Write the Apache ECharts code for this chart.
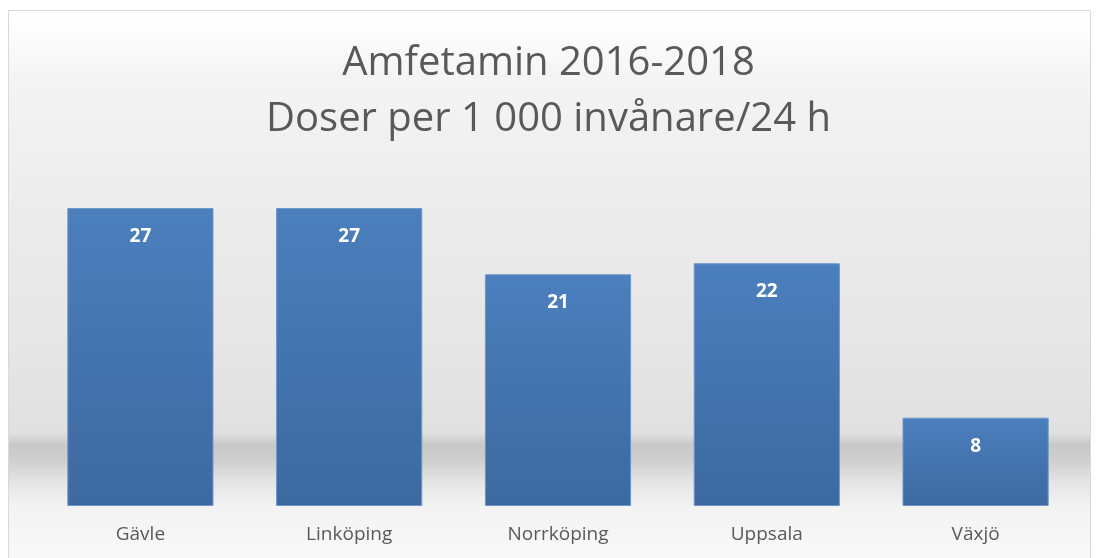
<!DOCTYPE html>
<html><head><meta charset="utf-8">
<script src="https://cdn.jsdelivr.net/npm/echarts@6/dist/echarts.min.js"></script>
<style>html,body{margin:0;padding:0;background:#fff}#c{width:1097px;height:558px}</style>
</head><body><div id="c"></div>
<script>
const categories = ['Gävle', 'Linköping', 'Norrköping', 'Uppsala', 'Växjö'];
const values = [27, 27, 21, 22, 8];
const titleLines = ['Amfetamin 2016-2018', 'Doser per 1 000 invånare/24 h'];

const chart = echarts.init(document.getElementById('c'), null, {renderer: 'canvas'});
chart.setOption({
  animation: false,
  backgroundColor: '#ffffff',
  graphic: [{
    type: 'rect', z: -10, silent: true,
    shape: {x: 8.5, y: 10.5, width: 1082, height: 560},
    style: {
      stroke: '#d9d9d9', lineWidth: 1,
      fill: new echarts.graphic.LinearGradient(0, 0, 0, 1, [
        {offset: 0, color: '#ffffff'},
        {offset: 0.04, color: '#fdfdfd'},
        {offset: 0.12, color: '#f4f4f4'},
        {offset: 0.35, color: '#ececec'},
        {offset: 0.6, color: '#e6e6e6'},
        {offset: 0.755, color: '#e0e0e0'},
        {offset: 0.775, color: '#c8c8c8'},
        {offset: 0.8, color: '#cdcdcd'},
        {offset: 0.84, color: '#e4e4e4'},
        {offset: 0.885, color: '#f3f3f3'},
        {offset: 1, color: '#fafafa'}
      ])
    }
  }],
  title: {
    text: titleLines.join('\n'),
    left: 'center', top: 31,
    textStyle: {fontFamily: 'Open Sans', fontSize: 40, fontWeight: 'normal', color: '#595959', lineHeight: 56}
  },
  grid: {left: 36, right: 17, top: 175, bottom: 52},
  xAxis: {
    type: 'category', data: categories,
    axisLine: {show: false}, axisTick: {show: false},
    axisLabel: {color: '#595959', fontSize: 19, fontFamily: 'Open Sans', margin: 19}
  },
  yAxis: {type: 'value', min: 0, max: 30, show: false, splitLine: {show: false}},
  series: [{
    type: 'bar', data: values, barCategoryGap: '30%',
    itemStyle: {
      color: new echarts.graphic.LinearGradient(0, 0, 0, 1, [
        {offset: 0, color: '#4b7fbd'},
        {offset: 1, color: '#3c69a0'}
      ]),
      borderColor: '#6a96cb', borderWidth: 1
    },
    label: {
      show: true, position: 'insideTop', distance: 19,
      color: '#ffffff', fontWeight: 'bold', fontSize: 19, fontFamily: 'Open Sans'
    }
  }]
});
</script></body></html>
